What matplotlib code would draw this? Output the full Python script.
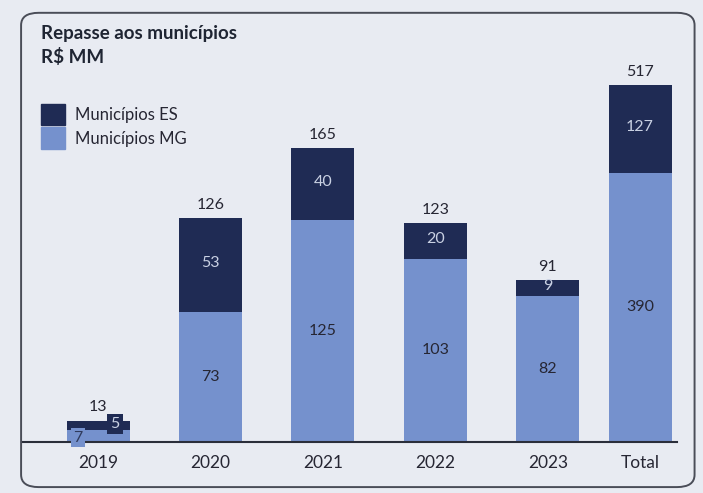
import numpy as np
import matplotlib.pyplot as plt
from matplotlib.patches import FancyBboxPatch, Patch

plt.rcParams['font.family'] = ['Lato', 'DejaVu Sans']

years = ['2019', '2020', '2021', '2022', '2023', 'Total']
mg = [7, 73, 125, 103, 82, 390]
es = [5, 53, 40, 20, 9, 127]
totals = [13, 126, 165, 123, 91, 517]

dark = '#1f2b54'
light = '#7591cd'
txt = '#262633'
bg = '#e8ebf2'

# the Total column is drawn on a compressed scale in the original
total_scale = 0.388

fig = plt.figure(figsize=(7.03, 4.93), dpi=100, facecolor=bg)
ax = fig.add_axes([0.0313, 0.1034, 0.932, 0.83])
ax.set_facecolor('none')

x = np.arange(len(years), dtype=float)
x[-1] -= 0.18
scale = np.ones(len(years))
scale[-1] = total_scale

mg_h = np.array(mg) * scale
es_h = np.array(es) * scale
ax.bar(x, mg_h, width=0.56, color=light)
ax.bar(x, es_h, bottom=mg_h, width=0.56, color=dark)

fs = 11.5
for i in range(len(years)):
    top = mg_h[i] + es_h[i]
    ax.text(x[i], top + 3.5, str(totals[i]), ha='center', va='bottom',
            fontsize=fs, color=txt)
    if i == 0:
        ax.text(x[i] - 0.18, mg_h[i] / 2 - 1, str(mg[i]), ha='center', va='center',
                fontsize=fs, color='#2f3a5c',
                bbox=dict(boxstyle='square,pad=0.15', fc=light, ec='none'))
        ax.text(x[i] + 0.15, mg_h[i] + es_h[i] / 2 + 0.5, str(es[i]), ha='center',
                va='center', fontsize=fs, color='#c9d1e3',
                bbox=dict(boxstyle='square,pad=0.2', fc=dark, ec='none'))
        continue
    ax.text(x[i], mg_h[i] / 2, str(mg[i]), ha='center', va='center',
            fontsize=fs, color=txt)
    ax.text(x[i], mg_h[i] + es_h[i] / 2 + 1, str(es[i]), ha='center', va='center',
            fontsize=fs, color='#c9d1e3')

ax.set_xlim(-0.676, 5.15)
ax.set_ylim(0, 230)
ax.set_xticks(x)
ax.set_xticklabels(years, fontsize=12.5, color=txt)
ax.tick_params(axis='x', length=0, pad=9)
ax.set_yticks([])
for s in ['top', 'right', 'left']:
    ax.spines[s].set_visible(False)
ax.spines['bottom'].set_color('#2a2e3a')
ax.spines['bottom'].set_linewidth(1.5)

fig.text(0.059, 0.933, 'Repasse aos municípios', fontsize=13.5, fontweight='bold',
         color='#1f2533', va='center')
fig.text(0.059, 0.884, 'R$ MM', fontsize=13.5, fontweight='bold',
         color='#1f2533', va='center')

handles = [Patch(color=dark, label='Municípios ES'),
           Patch(color=light, label='Municípios MG')]
fig.legend(handles=handles, loc='upper left', bbox_to_anchor=(0.058, 0.79),
           frameon=False, fontsize=12, handlelength=1.45, handleheight=1.6,
           handletextpad=0.6, labelspacing=0.15, borderpad=0, borderaxespad=0,
           labelcolor=txt)

border = FancyBboxPatch((0.03, 0.012), 0.958, 0.962, transform=fig.transFigure,
                        boxstyle='round,pad=0,rounding_size=0.025',
                        fc='none', ec='#4a4d58', lw=1.4)
fig.patches.append(border)

fig.savefig('out.png', dpi=100, facecolor=bg)
